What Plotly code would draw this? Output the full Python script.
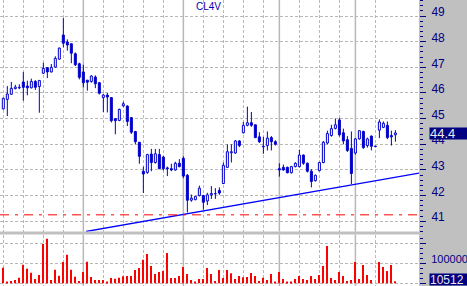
import plotly.graph_objects as go

# ---------------- data ----------------
opens = [45.38, 45.75, 45.95, 46.17, 46.20, 46.43, 46.27, 46.20, 46.45, 46.25,
         46.77, 46.99, 46.82, 47.01, 47.32, 48.26, 47.99, 47.92, 47.53, 47.14,
         46.82, 46.50, 46.45, 46.62, 46.40, 45.82, 45.92, 45.82, 45.00, 44.93,
         45.50, 45.49, 45.04, 44.50, 44.08, 42.95, 42.90, 43.62, 43.29, 43.60,
         43.50, 43.08, 43.05, 43.00, 43.26, 43.45, 42.79, 41.82, 41.84, 42.00,
         42.00, 41.79, 42.03, 42.07, 42.20, 42.47, 43.10, 43.67, 43.66, 44.13,
         44.45, 44.74, 44.84, 44.76, 44.29, 43.92, 43.95, 44.26, 44.10, 43.05,
         43.10, 43.10, 42.89, 43.13, 43.13, 43.58, 43.26, 42.95, 42.58, 42.97,
         43.29, 44.05, 44.34, 44.62, 44.95, 44.45, 44.18, 43.84, 43.66, 44.21,
         44.50, 43.95, 44.32, 43.93, 44.55, 44.66, 44.74, 44.34, 44.37]
highs = [45.82, 46.27, 46.43, 46.32, 46.34, 46.82, 46.48, 46.56, 46.50, 46.50,
         47.18, 47.00, 47.13, 47.43, 47.77, 48.92, 48.09, 47.92, 47.58, 47.18,
         47.10, 46.50, 46.69, 46.69, 46.43, 45.97, 46.00, 45.82, 45.00, 45.39,
         45.66, 45.52, 45.04, 44.50, 44.08, 43.13, 43.63, 43.82, 43.82, 43.82,
         43.55, 43.13, 43.24, 43.32, 43.42, 43.53, 42.84, 42.04, 41.98, 42.39,
         42.03, 42.11, 42.37, 42.29, 42.32, 43.29, 44.00, 44.00, 44.16, 44.16,
         44.87, 45.47, 45.26, 44.76, 44.47, 44.29, 44.50, 44.32, 44.16, 43.26,
         43.21, 43.13, 43.16, 43.30, 43.79, 43.60, 43.29, 43.03, 42.82, 43.32,
         44.13, 44.53, 44.76, 45.00, 45.03, 44.61, 44.32, 44.50, 44.24, 44.55,
         44.53, 44.26, 44.34, 43.93, 44.97, 44.89, 44.89, 44.53, 44.55]
lows = [45.36, 45.10, 45.93, 46.14, 46.15, 45.70, 45.91, 46.18, 46.12, 45.23,
        46.74, 46.58, 46.80, 46.98, 47.30, 47.78, 47.65, 47.16, 47.05, 46.53,
        46.22, 46.09, 46.40, 46.19, 45.94, 45.26, 45.24, 44.85, 44.39, 44.90,
        45.45, 44.71, 44.40, 44.00, 43.24, 42.10, 42.85, 42.95, 43.25, 43.03,
        42.98, 42.76, 42.95, 42.97, 43.10, 42.68, 41.34, 41.76, 41.82, 41.97,
        41.45, 41.63, 41.87, 41.87, 42.03, 42.45, 43.08, 43.29, 43.63, 43.89,
        44.42, 44.70, 44.68, 44.24, 44.05, 43.63, 43.76, 43.76, 43.95, 42.74,
        42.97, 42.87, 42.86, 43.10, 43.10, 43.20, 42.90, 42.32, 42.55, 42.95,
        43.26, 44.00, 44.30, 44.58, 44.30, 44.00, 43.70, 42.45, 43.60, 44.18,
        43.82, 43.87, 43.76, 43.91, 44.24, 44.63, 44.20, 43.95, 44.10]
closes = [45.79, 45.96, 46.18, 46.23, 46.22, 46.22, 46.20, 46.45, 46.22, 46.49,
          46.96, 46.82, 47.00, 47.35, 47.75, 47.94, 47.87, 47.55, 47.10, 46.61,
          46.40, 46.42, 46.66, 46.36, 45.99, 45.92, 45.84, 44.92, 44.92, 45.36,
          45.58, 44.89, 44.47, 44.10, 43.53, 42.84, 43.60, 43.29, 43.63, 43.05,
          43.05, 43.05, 43.00, 43.26, 43.13, 42.76, 41.82, 41.90, 41.97, 42.29,
          41.74, 42.03, 42.08, 42.08, 42.10, 43.18, 43.71, 43.71, 44.13, 43.95,
          44.74, 44.84, 44.74, 44.26, 44.10, 43.90, 44.24, 44.10, 44.00, 43.00,
          43.00, 42.89, 43.13, 43.26, 43.58, 43.26, 42.95, 42.55, 42.79, 43.29,
          44.08, 44.42, 44.61, 44.76, 44.37, 44.13, 43.76, 42.86, 44.21, 44.53,
          43.87, 44.21, 43.92, 43.91, 44.87, 44.82, 44.26, 44.29, 44.44]
volumes = [78000, 5000, 12000, 17000, 28000, 93000, 73000, 53000, 22000, 42000,
           197000, 223000, 17000, 68000, 38000, 107000, 143000, 68000, 33000, 12000,
           57000, 108000, 32000, 17000, 17000, 17000, 7000, 27000, 23000, 28000,
           35000, 37000, 37000, 67000, 77000, 118000, 147000, 87000, 47000, 57000,
           62000, 152000, 27000, 27000, 37000, 82000, 47000, 17000, 5000, 22000,
           22000, 77000, 47000, 12000, 67000, 27000, 67000, 50000, 22000, 37000,
           30000, 32000, 52000, 37000, 12000, 28000, 17000, 47000, 5000, 57000,
           22000, 7000, 5000, 22000, 37000, 22000, 17000, 37000, 22000, 42000,
           87000, 187000, 27000, 17000, 57000, 37000, 12000, 17000, 107000, 22000,
           92000, 42000, 17000, 0, 107000, 82000, 62000, 92000, 10512]
days = list(range(len(closes)))

week_starts = [0, 5, 10, 15, 25, 30, 35, 40, 50, 55, 60, 65, 74, 79, 84, 93]
month_starts = [20, 45, 69, 88]
price_ticks = [41, 42, 43, 44, 45, 46, 47, 48, 49]
vol_ticks = [0, 100000, 200000]
vol_tick_text = ["", "100000", ""]
support_level = 41.25
trend_x = [20.7, 103.9]
trend_y = [40.6, 42.88]
title_text = "CL4V"
last_price = 44.44
last_price_text = "44.4"
last_volume_text = "10512"

# ---------------- styling ----------------
W, H = 467, 286
PLOT_R = 419
CANDLE = "#0000cc"
NAVY = "#000080"
GRID = "#b8b8b8"
PANEL = "#c0c0c0"
FONT = "Liberation Sans, Arial, sans-serif"

price_bottom_px, vol_top_px = 231.5, 234.5
price_dom = [(H - price_bottom_px) / H, 1.0]
vol_dom = [0.0, (H - vol_top_px) / H]

fig = go.Figure()

# wicks (two segments so they don't cross hollow bodies)
wx, wy = [], []
for i, o, h, l, c in zip(days, opens, highs, lows, closes):
    top, bot = max(o, c), min(o, c)
    wx += [i, i, None, i, i, None]
    wy += [top, h, None, l, bot, None]
fig.add_trace(go.Scatter(x=wx, y=wy, mode="lines", line=dict(color=CANDLE, width=1),
                         hoverinfo="skip", xaxis="x", yaxis="y"))

up = [i for i in days if closes[i] >= opens[i]]
dn = [i for i in days if closes[i] < opens[i]]
fig.add_trace(go.Bar(x=up, y=[closes[i] - opens[i] for i in up], base=[opens[i] for i in up],
                     width=0.5, marker=dict(color="white", line=dict(color=CANDLE, width=1)),
                     xaxis="x", yaxis="y"))
fig.add_trace(go.Bar(x=dn, y=[opens[i] - closes[i] for i in dn], base=[closes[i] for i in dn],
                     width=0.5, marker=dict(color=CANDLE, line=dict(color=CANDLE, width=1)),
                     xaxis="x", yaxis="y"))

# trend line
fig.add_trace(go.Scatter(x=trend_x, y=trend_y, mode="lines", line=dict(color="#0000ff", width=1.3),
                         xaxis="x", yaxis="y", hoverinfo="skip"))

# volume
fig.add_trace(go.Bar(x=days, y=volumes, width=0.28, marker=dict(color="#ff0000", line=dict(width=0)),
                     xaxis="x2", yaxis="y2"))

xr = [-0.83, 103.9]
xcommon = dict(range=xr, tickmode="array", tickvals=week_starts, showticklabels=False, ticks="",
               showgrid=True, gridcolor=GRID, gridwidth=1, griddash="3px,2px", zeroline=False,
               showline=False, fixedrange=True)

fig.update_layout(
    width=W, height=H, margin=dict(l=0, r=W - PLOT_R, t=0, b=0, pad=0),
    paper_bgcolor=PANEL, plot_bgcolor="white", showlegend=False, barmode="overlay",
    font=dict(family=FONT, size=11, color=NAVY),
    xaxis=dict(domain=[0, 1], anchor="y", **xcommon),
    xaxis2=dict(domain=[0, 1], anchor="y2", matches="x", **xcommon),
    yaxis=dict(domain=price_dom, anchor="x", range=[40.6, 49.625], side="right",
               tickmode="array", tickvals=price_ticks, ticks="outside", ticklen=6, tickwidth=1,
               tickcolor=NAVY, tickfont=dict(family=FONT, size=12, color=NAVY),
               ticklabelshift=-4, ticklabelstandoff=3,
               showgrid=True, gridcolor=GRID, griddash="3px,2px", zeroline=False, showline=False,
               minor=dict(tickmode="linear", tick0=0, dtick=0.2, ticks="outside", ticklen=3,
                          tickcolor=NAVY, showgrid=False)),
    yaxis2=dict(domain=vol_dom, anchor="x2", range=[-13500, 244000], side="right",
                tickmode="array", tickvals=vol_ticks, ticktext=vol_tick_text, ticks="outside",
                ticklen=6, tickcolor=NAVY, tickfont=dict(family=FONT, size=11, color=NAVY),
                ticklabelshift=-4, ticklabelstandoff=3,
                showgrid=True, gridcolor=GRID, griddash="3px,2px", zeroline=False, showline=False,
                minor=dict(tickmode="linear", tick0=0, dtick=25000, ticks="outside", ticklen=3,
                           tickcolor=NAVY, showgrid=False)),
)

shapes = []
for m in month_starts:
    for yr in ("y domain", "y2 domain"):
        shapes.append(dict(type="line", xref="x", yref=yr, x0=m, x1=m, y0=0, y1=1,
                           line=dict(color=GRID, width=1.5), layer="below"))
shapes.append(dict(type="line", xref="x domain", yref="y", x0=0, x1=1, y0=support_level,
                   y1=support_level, line=dict(color="#ff0000", width=1, dash="9px,6px,3px,6px"),
                   layer="above"))
fig.update_layout(shapes=shapes)

annotations = [
    dict(text=title_text, xref="paper", yref="paper", x=208 / PLOT_R, y=1 - 6.5 / H,
         xanchor="center", yanchor="middle", showarrow=False,
         font=dict(family=FONT, size=10, color="#0000b0")),
    dict(text=last_price_text, xref="paper", yref="y", x=428.5 / PLOT_R, y=last_price,
         xanchor="left", yanchor="middle", showarrow=False, align="left",
         bgcolor=NAVY, width=37, height=11, borderpad=0,
         font=dict(family=FONT, size=13, color="#e8e8e8")),
    dict(text=last_volume_text, xref="paper", yref="y2", x=428.5 / PLOT_R, y=volumes[-1],
         yshift=2, xanchor="left", yanchor="middle", showarrow=False, align="left",
         bgcolor=NAVY, width=37, height=11, borderpad=0,
         font=dict(family=FONT, size=12, color="#e8e8e8")),
]
fig.update_layout(annotations=annotations)

fig.write_html("out.html")
